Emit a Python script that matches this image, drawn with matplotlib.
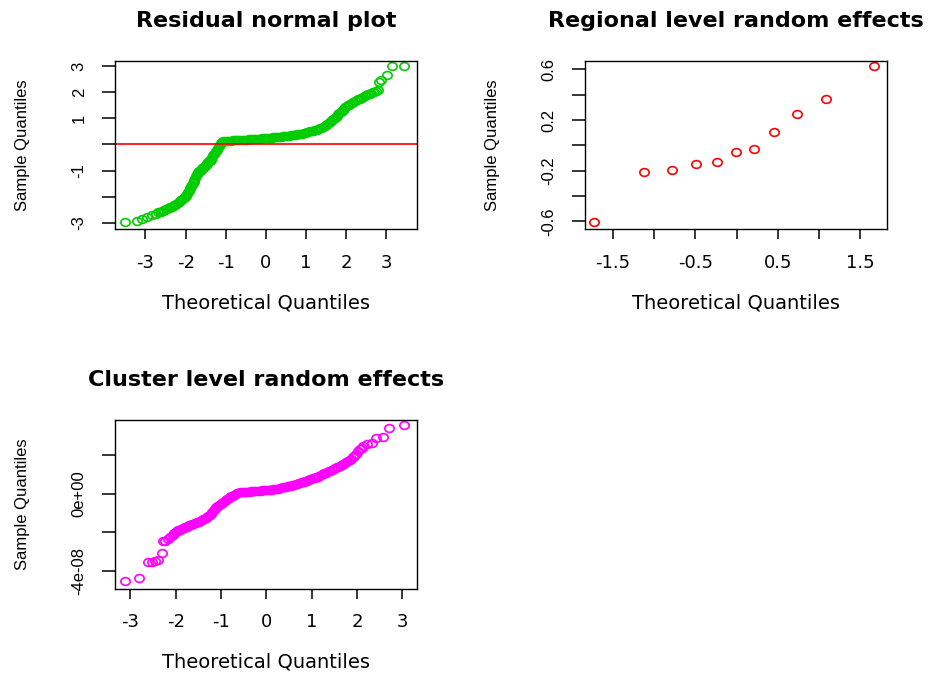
import matplotlib
matplotlib.use("Agg")
import matplotlib.pyplot as plt
import numpy as np
from matplotlib.path import Path
from matplotlib.transforms import Affine2D

# residual normal plot (theoretical, sample)
resid_x = [-3.51, -3.20, -3.08, -2.95, -2.85, -2.75, -2.68,
           -2.62, -2.59, -2.56, -2.53, -2.50, -2.47, -2.44, -2.41, -2.38, -2.35, -2.32, -2.29,
           -2.26, -2.23, -2.20, -2.17, -2.14, -2.11, -2.08, -2.05, -2.02, -2.00,
           -1.98, -1.96, -1.94, -1.92, -1.90, -1.88, -1.86, -1.84, -1.82, -1.80, -1.78,
           -1.76, -1.74, -1.72, -1.70,
           -1.68, -1.66, -1.64, -1.62, -1.60, -1.58, -1.56, -1.54, -1.52, -1.50, -1.48, -1.46,
           -1.44, -1.42, -1.40, -1.38,
           -1.36, -1.335, -1.31, -1.285, -1.26, -1.235, -1.21, -1.185, -1.16, -1.135, -1.11, -1.09,
           -1.06, -1.02, -0.98, -0.94, -0.90, -0.86, -0.82, -0.78, -0.74, -0.70, -0.66, -0.62,
           -0.58, -0.54, -0.50, -0.46, -0.42, -0.38, -0.34, -0.30, -0.26, -0.22, -0.18, -0.14,
           -0.10, -0.06, -0.02, 0.02, 0.06, 0.10, 0.14, 0.18, 0.22, 0.26, 0.30, 0.34, 0.38,
           0.42, 0.46, 0.50, 0.54, 0.58, 0.62, 0.66, 0.70, 0.74, 0.78, 0.82, 0.86, 0.90, 0.94,
           0.98, 1.02, 1.06, 1.10, 1.14, 1.18, 1.22, 1.26, 1.30, 1.34, 1.38, 1.42, 1.46, 1.50,
           1.53, 1.56, 1.59, 1.62, 1.65, 1.68, 1.71, 1.74, 1.77, 1.80, 1.83, 1.86, 1.89, 1.92,
           1.95, 1.98, 2.01, 2.04, 2.07, 2.10,
           2.14, 2.18, 2.22, 2.26, 2.30, 2.34, 2.38, 2.42, 2.46, 2.50, 2.54, 2.58, 2.62, 2.66,
           2.70, 2.74, 2.78,
           2.81, 2.87, 3.02, 3.14, 3.44]
resid_y = [-2.98, -2.92, -2.87, -2.78, -2.71, -2.65, -2.60,
           -2.57, -2.55, -2.53, -2.51, -2.49, -2.47, -2.45, -2.43, -2.41, -2.38, -2.36, -2.33,
           -2.31, -2.28, -2.25, -2.22, -2.18, -2.14, -2.10, -2.06, -2.01, -1.98,
           -1.94, -1.89, -1.83, -1.77, -1.72, -1.66, -1.60, -1.55, -1.49, -1.43, -1.37,
           -1.30, -1.22, -1.15, -1.10,
           -1.065, -1.035, -1.005, -0.975, -0.945, -0.915, -0.885, -0.855, -0.825, -0.79, -0.755,
           -0.72, -0.685, -0.65, -0.615, -0.58,
           -0.54, -0.48, -0.42, -0.36, -0.31, -0.26, -0.20, -0.14, -0.07, -0.01, 0.05, 0.10,
           0.115, 0.125, 0.13, 0.135, 0.145, 0.15, 0.155, 0.16, 0.165, 0.17, 0.17, 0.175,
           0.18, 0.18, 0.185, 0.19, 0.195, 0.20, 0.205, 0.205, 0.21, 0.215, 0.22, 0.225,
           0.23, 0.235, 0.24, 0.245, 0.25, 0.26, 0.265, 0.27, 0.28, 0.285, 0.29, 0.30, 0.305,
           0.31, 0.32, 0.325, 0.33, 0.34, 0.345, 0.35, 0.36, 0.37, 0.385, 0.40, 0.405, 0.415, 0.43,
           0.44, 0.46, 0.48, 0.50, 0.515, 0.53, 0.55, 0.57, 0.59, 0.62, 0.645, 0.675, 0.705, 0.74,
           0.775, 0.81, 0.85, 0.89, 0.93, 0.97, 1.015, 1.06, 1.11, 1.16, 1.205, 1.25, 1.295, 1.335,
           1.375, 1.42, 1.46, 1.495, 1.525, 1.56,
           1.60, 1.635, 1.67, 1.70, 1.73, 1.76, 1.795, 1.83, 1.86, 1.89, 1.92, 1.945, 1.97, 2.00,
           2.03, 2.055, 2.08,
           2.41, 2.46, 2.67, 3.01, 3.01]

# regional level random effects
region_x = [-1.73, -1.13, -0.78, -0.49, -0.24, -0.01, 0.21, 0.46, 0.73, 1.08, 1.67]
region_y = [-0.603, -0.208, -0.198, -0.145, -0.134, -0.053, -0.032, 0.103, 0.245, 0.368, 0.626]

# cluster level random effects (sample values in units of 1e-08)
cluster_x = [-3.12, -2.81, -2.61, -2.53, -2.46, -2.38, -2.31, -2.29, -2.23, -2.17, -2.12, -2.07,
             -2.03, -2.00, -1.97, -1.94, -1.91, -1.88, -1.85, -1.82, -1.79, -1.76, -1.73, -1.70,
             -1.67, -1.64, -1.61, -1.58, -1.55, -1.52, -1.49, -1.46, -1.43, -1.40, -1.37, -1.34,
             -1.31, -1.28,
             -1.25, -1.22, -1.19, -1.16, -1.13, -1.10, -1.07, -1.04, -1.01, -0.98, -0.95, -0.92,
             -0.89, -0.86, -0.83, -0.80, -0.77, -0.74, -0.71, -0.68, -0.65, -0.62,
             -0.58, -0.545, -0.51, -0.475, -0.44, -0.405, -0.37, -0.335, -0.30, -0.265, -0.23,
             -0.195, -0.16, -0.125, -0.09, -0.055, -0.02, 0.015, 0.05, 0.085, 0.12, 0.155, 0.19,
             0.225, 0.26, 0.295, 0.33, 0.365, 0.40, 0.435, 0.47, 0.505, 0.54, 0.575, 0.61, 0.645,
             0.68, 0.715, 0.75, 0.785, 0.82, 0.855, 0.89, 0.925, 0.96, 0.995,
             1.03, 1.065, 1.10, 1.135, 1.17, 1.205, 1.24, 1.275, 1.31, 1.345, 1.38, 1.415, 1.45,
             1.485, 1.52, 1.555, 1.59, 1.625, 1.66, 1.695, 1.73, 1.765, 1.80, 1.835, 1.87, 1.905,
             1.94, 1.97,
             2.02, 2.06, 2.10, 2.14, 2.21, 2.34, 2.43, 2.57, 2.70, 3.04]
cluster_y_e8 = [-4.50, -4.36, -3.50, -3.50, -3.47, -3.42, -3.04, -2.42, -2.42, -2.36, -2.26, -2.14,
                -2.03, -1.98, -1.94, -1.90, -1.85, -1.82, -1.79, -1.76, -1.73, -1.70, -1.67, -1.64,
                -1.62, -1.59, -1.56, -1.53, -1.50, -1.47, -1.44, -1.40, -1.37, -1.32, -1.29, -1.25,
                -1.20, -1.15,
                -1.10, -1.03, -0.95, -0.86, -0.78, -0.71, -0.64, -0.58, -0.53, -0.48, -0.43, -0.38,
                -0.33, -0.29, -0.24, -0.19, -0.14, -0.10, -0.06, -0.02, 0.02, 0.05,
                0.07, 0.08, 0.085, 0.09, 0.10, 0.105, 0.11, 0.12, 0.125, 0.13, 0.14,
                0.145, 0.15, 0.155, 0.165, 0.17, 0.175, 0.18, 0.19, 0.20, 0.21, 0.225, 0.235,
                0.25, 0.265, 0.28, 0.30, 0.32, 0.34, 0.355, 0.375, 0.395, 0.42, 0.44, 0.465, 0.49,
                0.515, 0.54, 0.57, 0.59, 0.62, 0.645, 0.67, 0.70, 0.73, 0.76,
                0.79, 0.82, 0.85, 0.88, 0.92, 0.96, 1.00, 1.04, 1.08, 1.12, 1.16, 1.19, 1.23,
                1.27, 1.31, 1.35, 1.39, 1.43, 1.48, 1.53, 1.58, 1.63, 1.69, 1.74, 1.80, 1.87,
                1.94, 2.02,
                2.20, 2.30, 2.38, 2.47, 2.58, 2.60, 2.86, 2.91, 3.37, 3.54]

plt.rcParams['font.family'] = 'DejaVu Sans'

# R draws the circles a bit wider than tall in this picture
ring = Affine2D().scale(1.2, 1.0).transform_path(Path.unit_circle())


def qq_panel(ax, x, y, color, title, xlim, ylim, xticks, xlabels, yticks, ylabels):
    ax.plot(x, y, linestyle='none', marker=ring, markersize=6.7,
            markerfacecolor='none', markeredgecolor=color, markeredgewidth=1.2)
    ax.set_xlim(xlim)
    ax.set_ylim(ylim)
    ax.set_xticks(xticks, xlabels)
    ax.set_yticks(yticks, ylabels)
    ax.tick_params(axis='x', direction='out', length=7.2, width=1.1, pad=10.5, labelsize=13)
    ax.tick_params(axis='y', direction='out', length=9.4, width=1.1, pad=11, labelsize=12)
    for lab in ax.get_yticklabels():
        lab.set_rotation(90)
        lab.set_va('center')
        lab.set_family('Liberation Sans')
    for s in ax.spines.values():
        s.set_linewidth(1.0)
    ax.set_title(title, fontsize=16, fontweight='bold', y=1.237, pad=0, va='center')
    ax.set_xlabel("Theoretical Quantiles", fontsize=14)
    ax.xaxis.set_label_coords(0.5, -0.437)
    ax.xaxis.label.set_va('center')
    ax.set_ylabel("Sample Quantiles", fontsize=12, family='Liberation Sans')
    ax.yaxis.set_label_coords(-0.305, 0.5)
    ax.yaxis.label.set_va('center')


fig = plt.figure(figsize=(9.31, 6.74), dpi=100)
ax1 = fig.add_axes([0.1235, 0.6598, 0.3247, 0.2501])
ax2 = fig.add_axes([0.6284, 0.6598, 0.3247, 0.2501])
ax3 = fig.add_axes([0.1235, 0.1266, 0.3247, 0.2503])

qq_panel(ax1, resid_x, resid_y, '#00CD00', "Residual normal plot",
         (-3.76, 3.77), (-3.25, 3.21),
         [-3, -2, -1, 0, 1, 2, 3], ['-3', '-2', '-1', '0', '1', '2', '3'],
         [-3, -2, -1, 0, 1, 2, 3], ['-3', '', '-1', '', '1', '2', '3'])
ax1.axhline(0, color='red', linewidth=1.2)

qq_panel(ax2, region_x, region_y, '#FF0000', "Regional level random effects",
         (-1.84, 1.83), (-0.663, 0.668),
         [-1.5, -1.0, -0.5, 0, 0.5, 1.0, 1.5], ['-1.5', '', '-0.5', '', '0.5', '', '1.5'],
         [-0.6, -0.4, -0.2, 0, 0.2, 0.4, 0.6], ['-0.6', '', '-0.2', '', '0.2', '', '0.6'])

qq_panel(ax3, cluster_x, np.array(cluster_y_e8) * 1e-8, '#FF00FF', "Cluster level random effects",
         (-3.34, 3.33), (-4.9e-8, 3.8e-8),
         [-3, -2, -1, 0, 1, 2, 3], ['-3', '-2', '-1', '0', '1', '2', '3'],
         [-4e-8, -2e-8, 0, 2e-8], ['-4e-08', '', '0e+00', ''])

fig.savefig("out.png", dpi=100)
